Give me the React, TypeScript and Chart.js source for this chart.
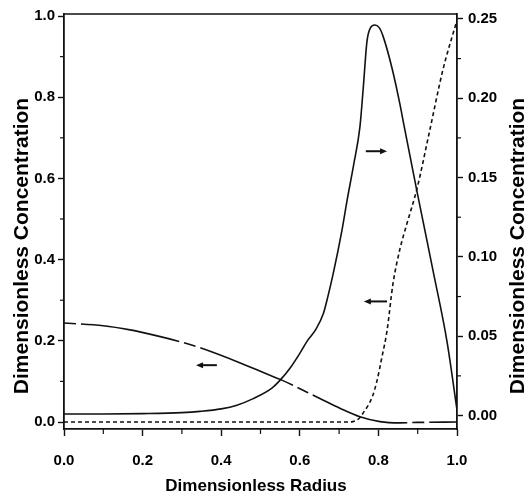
import React, { useEffect, useRef } from 'react';
import { Chart, registerables } from 'chart.js';

Chart.register(...registerables);

// Solid curve (read on right axis)
const solidR = [0, 0.1, 0.2, 0.3, 0.346, 0.4, 0.44, 0.48, 0.529, 0.55, 0.575, 0.6, 0.62, 0.64, 0.66, 0.672, 0.685, 0.707, 0.72, 0.737, 0.753, 0.761, 0.771, 0.78, 0.791, 0.802, 0.812, 0.835, 0.855, 0.865, 0.898, 0.939, 0.975, 1.0];
const solidC = [0.001, 0.001, 0.0012, 0.0018, 0.0026, 0.0042, 0.0065, 0.0105, 0.0173, 0.0223, 0.0298, 0.0392, 0.0474, 0.054, 0.0643, 0.0756, 0.0894, 0.1164, 0.1352, 0.158, 0.182, 0.205, 0.236, 0.2445, 0.2462, 0.2445, 0.239, 0.2186, 0.196, 0.183, 0.1415, 0.0913, 0.046, 0.0035];

// Dotted curve (read on left axis)
const dottedR = [0, 0.3, 0.6, 0.72, 0.735, 0.75, 0.761, 0.784, 0.796, 0.809, 0.822, 0.837, 0.855, 0.873, 0.898, 0.931, 0.964, 1.0];
const dottedC = [0, 0, 0, 0, 0.001, 0.008, 0.022, 0.061, 0.1, 0.16, 0.225, 0.34, 0.427, 0.49, 0.574, 0.72, 0.867, 0.99];

// Dash-dot curve (read on left axis)
const dashR = [0, 0.1, 0.168, 0.193, 0.295, 0.346, 0.45, 0.524, 0.55, 0.651, 0.702, 0.753, 0.804, 0.855, 0.9, 1.0];
const dashC = [0.244, 0.237, 0.227, 0.222, 0.198, 0.183, 0.145, 0.115, 0.105, 0.058, 0.034, 0.013, 0.001, -0.002, -0.001, 0];

// Tick values
const xTicks = [0, 0.1, 0.2, 0.3, 0.4, 0.5, 0.6, 0.7, 0.8, 0.9, 1.0];
const leftTicks = [0, 0.1, 0.2, 0.3, 0.4, 0.5, 0.6, 0.7, 0.8, 0.9, 1.0];
const rightTicks = [0, 0.025, 0.05, 0.075, 0.1, 0.125, 0.15, 0.175, 0.2, 0.225, 0.25];

// Arrow annotations: [r start, r end, value, axis]
const arrows: { from: number; to: number; c: number; axis: string }[] = [
  { from: 0.768, to: 0.822, c: 0.667, axis: 'y' },
  { from: 0.822, to: 0.763, c: 0.297, axis: 'y' },
  { from: 0.389, to: 0.336, c: 0.14, axis: 'y' },
];

const xTitle = 'Dimensionless Radius';
const yTitle = 'Dimensionless Concentration';

const FONT = '"Liberation Sans", Arial, sans-serif';

const isMajor = (v: number, step: number) => Math.abs(v / step - Math.round(v / step)) < 1e-6;

export default function App() {
  const ref = useRef<HTMLCanvasElement>(null);
  useEffect(() => {
    if (!ref.current) return;
    const toPts = (xs: number[], ys: number[]) => xs.map((x, i) => ({ x, y: ys[i] }));

    const extras = {
      id: 'extras',
      afterDraw(chart: any) {
        const { ctx, chartArea, scales } = chart;
        ctx.save();
        // top border
        ctx.strokeStyle = '#111';
        ctx.lineWidth = 1.6;
        ctx.beginPath();
        ctx.moveTo(chartArea.left, chartArea.top);
        ctx.lineTo(chartArea.right, chartArea.top);
        ctx.stroke();
        // minor ticks
        ctx.lineWidth = 1.2;
        const sx = scales.x, sy = scales.y, sy2 = scales.y2;
        xTicks.forEach((v) => {
          if (!isMajor(v, 0.2)) {
            const px = sx.getPixelForValue(v);
            ctx.beginPath();
            ctx.moveTo(px, chartArea.bottom);
            ctx.lineTo(px, chartArea.bottom + 5);
            ctx.stroke();
          }
        });
        leftTicks.forEach((v) => {
          if (!isMajor(v, 0.2)) {
            const py = sy.getPixelForValue(v);
            ctx.beginPath();
            ctx.moveTo(chartArea.left - 4, py);
            ctx.lineTo(chartArea.left, py);
            ctx.stroke();
          }
        });
        rightTicks.forEach((v) => {
          if (!isMajor(v, 0.05)) {
            const py = sy2.getPixelForValue(v);
            ctx.beginPath();
            ctx.moveTo(chartArea.right, py);
            ctx.lineTo(chartArea.right + 4, py);
            ctx.stroke();
          }
        });
        // arrows
        ctx.fillStyle = '#111';
        ctx.lineWidth = 2;
        arrows.forEach((a) => {
          const s = scales[a.axis];
          const x1 = sx.getPixelForValue(a.from);
          const x2 = sx.getPixelForValue(a.to);
          const py = s.getPixelForValue(a.c);
          const dir = Math.sign(x2 - x1);
          ctx.beginPath();
          ctx.moveTo(x1, py);
          ctx.lineTo(x2 - dir * 5, py);
          ctx.stroke();
          ctx.beginPath();
          ctx.moveTo(x2, py);
          ctx.lineTo(x2 - dir * 7, py - 3);
          ctx.lineTo(x2 - dir * 7, py + 3);
          ctx.closePath();
          ctx.fill();
        });
        // titles
        ctx.fillStyle = '#000';
        ctx.textAlign = 'center';
        ctx.textBaseline = 'middle';
        ctx.font = `bold 17px ${FONT}`;
        ctx.fillText(xTitle, 256, 486);
        ctx.font = `bold 21px ${FONT}`;
        ctx.save();
        ctx.translate(22, 246);
        ctx.rotate(-Math.PI / 2);
        ctx.fillText(yTitle, 0, 0);
        ctx.restore();
        ctx.save();
        ctx.translate(518, 246);
        ctx.rotate(-Math.PI / 2);
        ctx.fillText(yTitle, 0, 0);
        ctx.restore();
        ctx.restore();
      },
    };

    const tickFont = { family: FONT, size: 15, weight: 'bold' as const };

    const chart = new Chart(ref.current, {
      type: 'line',
      data: {
        datasets: [
          {
            label: 'solid',
            data: toPts(solidR, solidC),
            yAxisID: 'y2',
            borderColor: '#111',
            borderWidth: 1.6,
            pointRadius: 0,
            cubicInterpolationMode: 'monotone',
          },
          {
            label: 'dotted',
            data: toPts(dottedR, dottedC),
            yAxisID: 'y',
            borderColor: '#111',
            borderWidth: 1.6,
            borderDash: [4, 3],
            pointRadius: 0,
            cubicInterpolationMode: 'monotone',
          },
          {
            label: 'dashdot',
            data: toPts(dashR, dashC),
            yAxisID: 'y',
            borderColor: '#111',
            borderWidth: 1.6,
            borderDash: [12, 5, 100, 5],
            pointRadius: 0,
            cubicInterpolationMode: 'monotone',
          },
        ],
      },
      options: {
        animation: false,
        responsive: false,
        events: [],
        layout: { padding: { top: 12, left: 0, right: 0, bottom: 0 } },
        plugins: { legend: { display: false }, tooltip: { enabled: false } },
        scales: {
          x: {
            type: 'linear',
            min: 0,
            max: 1,
            afterBuildTicks: (s: any) => { s.ticks = xTicks.map((v) => ({ value: v })); },
            afterFit: (s: any) => { s.height = 65; },
            ticks: {
              font: tickFont,
              color: '#000',
              padding: 16,
              maxRotation: 0,
              autoSkip: false,
              callback: (v: any) => (isMajor(Number(v), 0.2) ? Number(v).toFixed(1) : ''),
            },
            grid: {
              drawOnChartArea: false,
              tickLength: 7,
              tickWidth: 1.4,
              tickColor: (c: any) => (c.tick && isMajor(c.tick.value, 0.2) ? '#111' : 'rgba(0,0,0,0)'),
            },
            border: { color: '#111', width: 1.8 },
          },
          y: {
            type: 'linear',
            position: 'left',
            min: -0.0172,
            max: 1.005,
            afterBuildTicks: (s: any) => { s.ticks = leftTicks.map((v) => ({ value: v })); },
            afterFit: (s: any) => { s.width = 64; },
            ticks: {
              font: tickFont,
              color: '#000',
              padding: 3,
              autoSkip: false,
              callback: (v: any) => (isMajor(Number(v), 0.2) ? Number(v).toFixed(1) : ''),
            },
            grid: {
              drawOnChartArea: false,
              tickLength: 6,
              tickWidth: 1.4,
              tickColor: (c: any) => (c.tick && isMajor(c.tick.value, 0.2) ? '#111' : 'rgba(0,0,0,0)'),
            },
            border: { color: '#111', width: 1.8 },
          },
          y2: {
            type: 'linear',
            position: 'right',
            min: -0.0085,
            max: 0.2531,
            afterBuildTicks: (s: any) => { s.ticks = rightTicks.map((v) => ({ value: v })); },
            afterFit: (s: any) => { s.width = 75; },
            ticks: {
              font: tickFont,
              color: '#000',
              padding: 5,
              autoSkip: false,
              callback: (v: any) => (isMajor(Number(v), 0.05) ? Number(v).toFixed(2) : ''),
            },
            grid: {
              drawOnChartArea: false,
              tickLength: 6,
              tickWidth: 1.4,
              tickColor: (c: any) => (c.tick && isMajor(c.tick.value, 0.05) ? '#111' : 'rgba(0,0,0,0)'),
            },
            border: { color: '#111', width: 1.8 },
          },
        },
      },
      plugins: [extras],
    });
    return () => chart.destroy();
  }, []);

  return (
    <div style={{ position: 'fixed', left: 0, top: 0, width: 532, height: 494, background: '#fff' }}>
      <canvas ref={ref} width={532} height={494} />
    </div>
  );
}
